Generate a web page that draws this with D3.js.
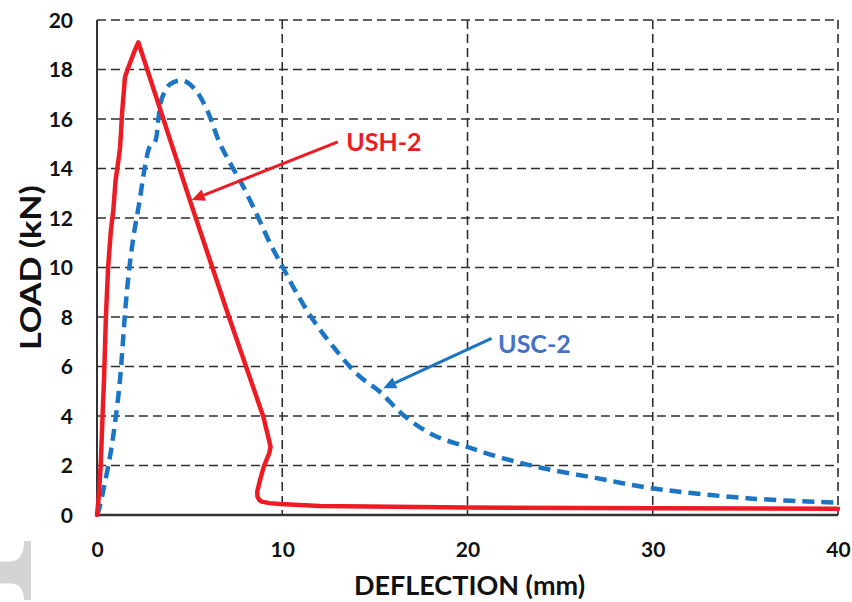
<!DOCTYPE html>
<html>
<head>
<meta charset="utf-8">
<script src="https://cdn.jsdelivr.net/npm/d3@7"></script>
<style>
  html, body { margin: 0; padding: 0; background: #fff; }
  svg { display: block; font-family: Lato, "Open Sans", sans-serif; font-weight: bold; }
</style>
</head>
<body>
<svg id="chart" width="852" height="602"></svg>
<script>
// ---- data ----
const ushX = [0, 0.08, 0.2, 0.3, 0.38, 0.48, 0.6, 0.75, 0.88, 1.0, 1.15, 1.24, 1.3, 1.35, 1.51, 1.7, 2.0, 2.23,
              5.02, 7.1, 8.98, 9.37, 9.3, 9.0, 8.8, 8.65, 8.66, 8.75, 8.89, 9.3, 9.88, 12.03, 20, 30, 40];
const ushY = [0, 0.6, 2.0, 4.0, 5.5, 8.0, 10.0, 11.5, 12.3, 13.5, 14.3, 14.8, 15.5, 16.2, 17.7, 18.1, 18.7, 19.1,
              12.7, 8.05, 3.97, 2.76, 2.5, 1.95, 1.41, 0.95, 0.75, 0.62, 0.54, 0.48, 0.44, 0.36, 0.3, 0.27, 0.25];

const uscX = [0, 0.07, 0.2, 0.34, 0.7, 0.97, 1.24, 1.4, 1.55, 1.75, 2.0, 2.28, 2.59, 2.86, 3.13, 3.31, 3.49, 3.94, 4.66, 5.29, 5.92,
              6.64, 7.2, 7.8, 8.6, 9.34, 10.06, 10.78, 11.67, 12.75, 14.1, 15.27, 16.53, 18.15, 19.95, 21.93, 24.09, 26.9, 29.97, 35.24, 40];
const uscY = [0, 0.13, 0.5, 1.0, 2.36, 3.7, 5.45, 7.0, 8.5, 10.0, 11.4, 12.6, 14.07, 14.9, 15.08, 16.0, 16.8, 17.4, 17.55, 17.2, 16.4,
              15.0, 14.2, 13.4, 12.19, 10.98, 9.97, 8.96, 7.88, 6.8, 5.65, 4.98, 4.04, 3.23, 2.76, 2.29, 1.89, 1.5, 1.08, 0.67, 0.5];

const xTicks = [0, 10, 20, 30, 40];
const yTicks = [0, 2, 4, 6, 8, 10, 12, 14, 16, 18, 20];
const xTitle = "DEFLECTION (mm)";
const yTitle = "LOAD (kN)";
const seriesNames = ["USH-2", "USC-2"];

// ---- layout ----
const svg = d3.select("#chart");
const L = 97, R = 838, T = 20, B = 515;
const x = d3.scaleLinear().domain([0, 40]).range([L, R]);
const y = d3.scaleLinear().domain([0, 20]).range([B, T]);

const red = "#ED1C24", blue = "#1B75C4", blueText = "#4472C4", gridC = "#2e2e2e";

// light gray decoration bottom-left (scan artifact)
svg.append("path")
  .attr("d", "M24,541 L31,541 L31,600 L24,600 C24,590 20,583.5 10,583.5 L0,583.5 L0,561.5 L10,561.5 C20,561.5 24,553 24,541 Z")
  .attr("fill", "#d4d4d4");

// grid
const g = svg.append("g");
g.selectAll(".hg").data(yTicks.filter(d => d > 0)).join("line")
  .attr("x1", L).attr("x2", R).attr("y1", d => y(d)).attr("y2", d => y(d))
  .attr("stroke", gridC).attr("stroke-width", 1.6).attr("stroke-dasharray", "9,5");
g.selectAll(".vg").data(xTicks.filter(d => d > 0)).join("line")
  .attr("y1", T).attr("y2", B).attr("x1", d => x(d)).attr("x2", d => x(d))
  .attr("stroke", gridC).attr("stroke-width", 1.6).attr("stroke-dasharray", "9,5");

// axes
const xAxis = d3.axisBottom(x).tickValues(xTicks).tickSize(0).tickPadding(25);
const yAxis = d3.axisLeft(y).tickValues(yTicks).tickSize(0).tickPadding(25);
const gx = svg.append("g").attr("transform", `translate(0,${B})`).call(xAxis);
const gy = svg.append("g").attr("transform", `translate(${L},0)`).call(yAxis);
[gx, gy].forEach(a => {
  a.select(".domain").remove();
  a.selectAll("text").attr("font-family", "Lato, sans-serif").attr("font-weight", "bold")
    .attr("font-size", 21).attr("fill", "#111");
});
gx.selectAll("text").attr("dy", "0.71em").attr("y", 27);
gy.selectAll("text").attr("x", -24).attr("dy", "0.35em");

// axis lines
svg.append("line").attr("x1", L).attr("x2", L).attr("y1", T).attr("y2", B)
  .attr("stroke", "#333").attr("stroke-width", 2);
svg.append("line").attr("x1", L - 1).attr("x2", R).attr("y1", B).attr("y2", B)
  .attr("stroke", "#333").attr("stroke-width", 2.5);

// series
const ush = ushX.map((d, i) => [d, ushY[i]]);
const usc = uscX.map((d, i) => [d, uscY[i]]);

svg.append("path").datum(usc)
  .attr("d", d3.line().x(d => x(d[0])).y(d => y(d[1])).curve(d3.curveCatmullRom.alpha(0.5)))
  .attr("fill", "none").attr("stroke", blue).attr("stroke-width", 4.5)
  .attr("stroke-dasharray", "12,7").attr("stroke-linecap", "butt");

svg.append("path").datum(ush)
  .attr("d", d3.line().x(d => x(d[0])).y(d => y(d[1])))
  .attr("fill", "none").attr("stroke", red).attr("stroke-width", 4.5)
  .attr("stroke-linejoin", "round").attr("stroke-linecap", "round");

// annotations (data coordinates)
const ann = [
  { name: seriesNames[0], color: red, tc: red, from: [13.0, 15.08], to: [5.11, 12.73], text: [13.45, 14.71] },
  { name: seriesNames[1], color: blue, tc: blueText, from: [21.3, 7.14], to: [15.45, 5.12], text: [21.65, 6.55] }
];
ann.forEach(a => {
  const x1 = x(a.from[0]), y1 = y(a.from[1]), x2 = x(a.to[0]), y2 = y(a.to[1]);
  const ang = Math.atan2(y2 - y1, x2 - x1);
  const hl = 13, hw = 6;
  const bx = x2 - hl * Math.cos(ang), by = y2 - hl * Math.sin(ang);
  svg.append("line").attr("x1", x1).attr("y1", y1).attr("x2", bx).attr("y2", by)
    .attr("stroke", a.color).attr("stroke-width", 3);
  const px = -Math.sin(ang), py = Math.cos(ang);
  svg.append("path")
    .attr("d", `M${x2},${y2} L${bx + px * hw},${by + py * hw} L${bx - px * hw},${by - py * hw} Z`)
    .attr("fill", a.color);
  svg.append("text").attr("x", x(a.text[0])).attr("y", y(a.text[1]))
    .attr("fill", a.tc).attr("font-size", 25).attr("font-weight", "bold").text(a.name);
});

// titles
svg.append("text").attr("x", (L + R) / 2 + 2).attr("y", 595).attr("text-anchor", "middle")
  .attr("font-size", 27).attr("fill", "#111").text(xTitle);
svg.append("text").attr("transform", `translate(41,${(T + B) / 2}) rotate(-90)`)
  .attr("text-anchor", "middle").attr("font-size", 29).attr("fill", "#111")
  .attr("textLength", 165).attr("lengthAdjust", "spacingAndGlyphs").text(yTitle);
</script>
</body>
</html>
